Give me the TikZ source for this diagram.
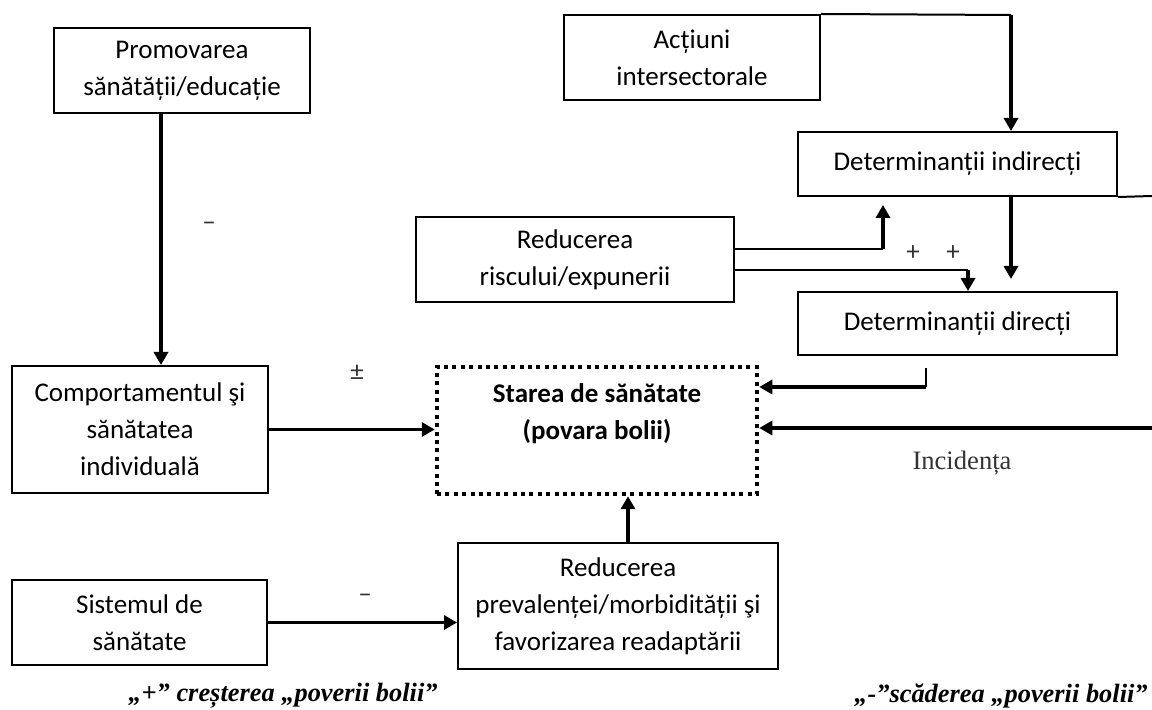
\documentclass[tikz,border=0pt]{standalone}
\usepackage{fontspec}
\setmainfont{Carlito}
\newfontfamily\seriffam{Liberation Serif}
\usetikzlibrary{arrows.meta,calc}
\begin{document}
\begin{tikzpicture}[x=0.5pt,y=-0.5pt,
  box/.style={draw,line width=1pt,inner sep=0pt,align=center,
    font=\fontsize{13.5}{18.5}\selectfont},
  dotbox/.style={draw,line width=2.25pt,dash pattern=on 2pt off 2.2pt,inner sep=0pt},
  bold/.style={inner sep=0pt,align=center,font=\fontsize{13.5}{18.5}\selectfont\bfseries},
  arr/.style={line width=1.7pt,-{Triangle[length=6.5pt,width=7pt]}},
  thn/.style={line width=1pt},
  sign/.style={inner sep=0pt,text=black!80,font=\fontsize{13.5}{14}\selectfont},
  inc/.style={inner sep=0pt,text=black!80,font=\seriffam\fontsize{13.3}{15}\selectfont},
  legend/.style={inner sep=0pt,font=\seriffam\bfseries\itshape\fontsize{13.2}{15}\selectfont}
]
\useasboundingbox (0,0) rectangle (1152,710);

% boxes
\node[box,minimum width=128pt,minimum height=42.5pt] (prom) at (182,70.5)
  {Promovarea\\sănătății/educație};
\node[box,minimum width=128pt,minimum height=42.5pt] (act) at (692,57.5)
  {Acțiuni\\intersectorale};
\node[box,minimum width=159.5pt,minimum height=32pt] (di) at (957.5,164)
  {Determinanții indirecți};
\node[box,minimum width=159pt,minimum height=42.5pt] (red) at (575,259.5)
  {Reducerea\\riscului/expunerii};
\node[box,minimum width=159.5pt,minimum height=31.5pt] (dd) at (957.5,323.5)
  {Determinanții direcți};
\node[box,minimum width=128pt,minimum height=63.5pt] (comp) at (140,429.5)
  {Comportamentul şi\\sănătatea\\individuală};
\node[dotbox,minimum width=160pt,minimum height=63.5pt] (st) at (597,430.5) {};
\node[bold] (sttxt) at (597,414) {Starea de sănătate\\(povara bolii)};
\node[box,minimum width=160pt,minimum height=63pt] (rp) at (618,606)
  {Reducerea\\prevalenței/morbidității şi\\favorizarea readaptării};
\node[box,minimum width=127.5pt,minimum height=42.5pt] (sis) at (139.5,622.5)
  {Sistemul de\\sănătate};

% helper coordinates
\coordinate (c1) at (1011,15);
\coordinate (c2) at (883,249);
\coordinate (c3) at (968,270);
\coordinate (c4) at (1152,196);
\coordinate (c5) at (926,387);
\coordinate (c6) at (1152,428);

% connectors
\draw[arr] ([xshift=-10.5pt]prom.south) -- ([xshift=-10.5pt]prom.south |- comp.north);
\draw[thn] (act.north east) -- (c1);
\draw[arr] (c1) -- (c1 |- di.north);
\draw[thn] (red.east |- c2) -- (c2);
\draw[arr,shorten >=4pt] (c2) -- (c2 |- di.south);
\draw[thn] (red.east |- c3) -- (c3);
\draw[arr] (c3) -- (c3 |- dd.north);
\draw[arr,shorten >=6pt] (di.south -| c1) -- (dd.north -| c1);
\draw[thn] (di.south east) -- (c4);
\draw[thn] ($(dd.south -| c5)+(0,12)$) -- (c5);
\draw[arr] (c5) -- (c5 -| st.east);
\draw[arr] (c6) -- (c6 -| st.east);
\draw[arr] (comp.east) -- (comp.east -| st.west);
\draw[arr] ([xshift=5pt]rp.north) -- ([xshift=5pt]rp.north |- st.south);
\draw[arr] (sis.east) -- (sis.east -| rp.west);

% labels
\node[sign] (m1) at (209,226) {–};
\node[sign] (pm) at (357,373) {±};
\node[sign] (p1) at (913,253) {+};
\node[sign] (p2) at (953,253) {+};
\node[sign] (m2) at (365,598) {–};
\node[inc] (incid) at (962,463) {Incidența};
\node[legend] (leg1) at (283,696) {„+” creșterea „poverii bolii”};
\node[legend,anchor=east] (leg2) at (1148,696) {„-”scăderea „poverii bolii”};
\end{tikzpicture}
\end{document}
